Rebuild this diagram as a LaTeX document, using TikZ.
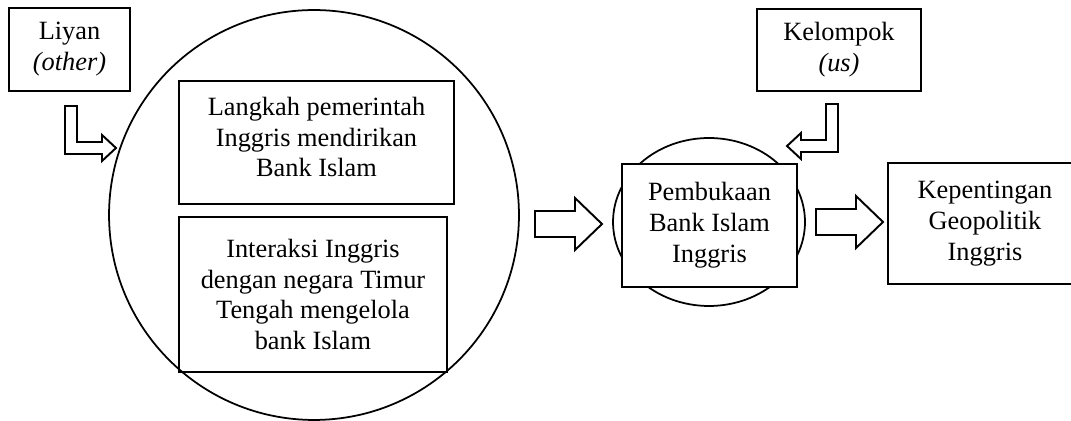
\documentclass[tikz,border=0pt]{standalone}
\usepackage{fontspec}
\setmainfont{Liberation Serif}
\usepackage{tikz}
\usetikzlibrary{positioning}
\usetikzlibrary{shapes.geometric}
\newcommand{\boxfont}{\fontsize{15}{17.6}\selectfont}
\tikzset{box/.style = {draw, line width = 1.1pt, align = center, inner sep = 0,
                       font = \boxfont}}
\tikzset{ring/.style = {draw, line width = 1pt, inner sep = 0}}
\tikzset{hollow/.style = {draw, line width = 1.1pt, line join = miter, fill = white}}
\tikzset{pics/fatarrow/.style = {code = {
    \draw [hollow] (0, -13) -- (40, -13) -- (40, -26) -- (67, 0)
                   -- (40, 26) -- (40, 13) -- (0, 13) -- cycle;}}}
\tikzset{pics/bentarrow/.style = {code = {
    \draw [hollow] (0, 0) -- (12, 0) -- (12, 36) -- (37, 36) -- (37, 29)
                   -- (51, 42) -- (37, 55) -- (37, 48) -- (0, 48) -- cycle;}}}

\begin{document}
\begin{tikzpicture}[x = 0.02cm, y = -0.02cm]
    \useasboundingbox (0, 0) rectangle (1071, 421);

    \node [ring, circle, minimum size = 8.2cm] (frame) at (314, 215) {};
    \node [ring, ellipse, minimum width = 3.84cm, minimum height = 3.36cm]
          (core) at (709, 222) {};

    \node [box, minimum width = 2.42cm, minimum height = 1.66cm]
          (liyan) at (69.5, 49.5) {Liyan\\\textit{(other)}};
    \node [box, minimum width = 3.28cm, minimum height = 1.64cm]
          (kelompok) at (839, 50) {Kelompok\\\textit{(us)}};

    \node [box, minimum width = 5.5cm, minimum height = 2.46cm]
          (langkah) at (316.5, 142.5) {};
    \node [font = \boxfont, align = center] (langkahtext) at (316.5, 137)
          {Langkah pemerintah\\Inggris mendirikan\\Bank Islam};
    \node [box, minimum width = 5.36cm, minimum height = 3.1cm]
          (interaksi) at (313, 294.5)
          {Interaksi Inggris\\dengan negara Timur\\Tengah mengelola\\bank Islam};

    \node [box, fill = white, minimum width = 3.5cm, minimum height = 2.46cm]
          (pembukaan) at (709.5, 225.5) {Pembukaan\\Bank Islam\\Inggris};
    \node [box, draw = none, minimum width = 3.84cm, minimum height = 2.38cm]
          (geo) at (985, 223.5) {Kepentingan\\Geopolitik\\Inggris};
    \draw [line width = 1.1pt] (geo.north east) -- (geo.north west)
          -- (geo.south west) -- (geo.south east);

    \pic at (535, 224) {fatarrow};
    \pic at (816, 222) {fatarrow};

    \pic at (65, 106) {bentarrow};
    \pic [xscale = -1] at (838, 104) {bentarrow};
  \end{tikzpicture}
\end{document}
